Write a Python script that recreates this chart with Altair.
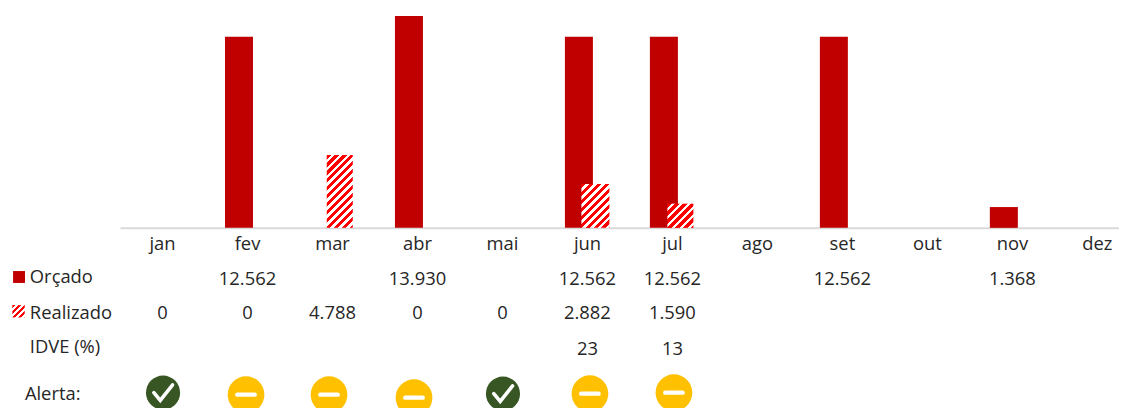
import altair as alt
import pandas as pd

months = ["jan", "fev", "mar", "abr", "mai", "jun", "jul", "ago", "set", "out", "nov", "dez"]
orcado = [None, 12562, None, 13930, None, 12562, 12562, None, 12562, None, 1368, None]
realizado = [0, 0, 4788, 0, 0, 2882, 1590, None, None, None, None, None]
idve = [None, None, None, None, None, 23, 13, None, None, None, None, None]
alerta = ["ok", "warn", "warn", "warn", "ok", "warn", "warn", None, None, None, None, None]
row_labels = ["Orçado", "Realizado", "IDVE (%)", "Alerta:"]

FONT = "Open Sans"
TXT = "#262626"
FS = 18.5
DARK_RED = "#C00000"
BASE = 220
TOP = 5.6
YMAX = 14000
HEIGHT = 400
CHECK = "M -0.5 0 L -0.15 0.42 L 0.52 -0.42"
DASH = "M -0.5 0 L 0.5 0"

def br(v):
    return f"{v:,}".replace(",", ".")

def hatch(w, h, period=8.0):
    k = (w + h) / (w * w + h * h)
    n = int((w + h) / period) + 1
    step = 1 / ((w + h) / period)
    stops = []
    for i in range(n):
        a, b, c = i * step, (i + 0.55) * step, (i + 1) * step
        if a >= 1:
            break
        stops += [
            {"offset": a, "color": "#FF0000"},
            {"offset": min(b, 1), "color": "#FF0000"},
            {"offset": min(b, 1), "color": "#FFFFFF"},
            {"offset": min(c, 1), "color": "#FFFFFF"},
        ]
    return {"gradient": "linear", "x1": 0, "y1": 0, "x2": k * w, "y2": k * h, "stops": stops}

df = pd.DataFrame({"m": months, "o": orcado, "r": realizado, "i": idve, "a": alerta})

x = alt.X("m:N", title=None,
          scale=alt.Scale(domain=months, range=[112.85, 1140], paddingInner=0, paddingOuter=0),
          axis=alt.Axis(orient="bottom", offset=BASE - HEIGHT, ticks=False, grid=False, labelAngle=0,
                        labelFont=FONT, labelFontSize=FS, labelColor=TXT, labelPadding=7,
                        domainColor="#D9D9D9", domainWidth=2))
y_scale = alt.Scale(domain=[0, YMAX], range=[BASE, TOP])

base = alt.Chart(df)
layers = []

layers.append(
    base.transform_filter("isValid(datum.o)")
    .mark_bar(width=28.2, xOffset=-8.6, color=DARK_RED)
    .encode(x=x, y=alt.Y("o:Q", scale=y_scale, axis=None, title=None))
)

geom = {"mar": (26.2, 7.3), "jun": (28.2, 8), "jul": (26.2, 8)}
for m, v in zip(months, realizado):
    if v:
        w, off = geom[m]
        h = v * (BASE - TOP) / YMAX
        layers.append(
            base.transform_filter(alt.datum.m == m)
            .mark_bar(width=w, xOffset=off, fill=hatch(w, h))
            .encode(x=x, y=alt.Y("r:Q", scale=y_scale, axis=None, title=None))
        )

def text_row(labels, ypos):
    d = pd.DataFrame({"m": months, "t": labels})
    d = d[d["t"].notna()]
    return alt.Chart(d).mark_text(font=FONT, fontSize=FS, color=TXT, baseline="middle", align="center").encode(
        x=x, y=alt.value(ypos), text="t:N")

layers.append(text_row([br(v) if v is not None else None for v in orcado], 272))
layers.append(text_row([br(v) if v is not None else None for v in realizado], 306))
layers.append(text_row([str(v) if v is not None else None for v in idve], 342))

for lab, xp, yp in zip(row_labels, [22, 22, 22, 17], [270, 306, 340, 387]):
    layers.append(
        alt.Chart(pd.DataFrame({"t": [lab]})).mark_text(font=FONT, fontSize=FS, color=TXT, align="left", baseline="middle")
        .encode(x=alt.value(xp), y=alt.value(yp), text="t:N")
    )

# legend swatches
layers.append(
    alt.Chart(pd.DataFrame({"t": ["Orçado"]})).mark_square(size=144, color=DARK_RED, opacity=1)
    .encode(x=alt.value(11.1), y=alt.value(269.5))
)
layers.append(
    alt.Chart(pd.DataFrame({"t": ["Realizado"]})).mark_square(size=156, fill=hatch(12.5, 12.5, 6.0), opacity=1)
    .encode(x=alt.value(10.6), y=alt.value(304))
)

# alert icons: small layout nudges per month
nudge = {"jan": (0.5, 386), "fev": (-1.5, 388), "mar": (-3.5, 388), "abr": (-3.5, 391),
         "mai": (0.5, 387), "jun": (2.5, 387), "jul": (1.5, 386)}
for m, a in zip(months, alerta):
    if a is None:
        continue
    dx, yp = nudge[m]
    d = pd.DataFrame({"m": [m]})
    col = "#375623" if a == "ok" else "#FFC000"
    size = 1183 if a == "ok" else 1369
    layers.append(
        alt.Chart(d).mark_point(filled=True, shape="circle", size=size, color=col, opacity=1, xOffset=dx)
        .encode(x=x, y=alt.value(yp))
    )
    layers.append(
        alt.Chart(d).mark_point(filled=False, shape=CHECK if a == "ok" else DASH, size=1369 if a == "ok" else 1225,
                                color="#FFFFFF", opacity=1, strokeWidth=3.6 if a == "ok" else 4.4,
                                strokeCap="round", xOffset=dx)
        .encode(x=x, y=alt.value(yp))
    )

chart = (
    alt.layer(*layers)
    .properties(width=1119, height=HEIGHT, padding=0, background="white",
                autosize=alt.AutoSizeParams(type="none"))
    .configure_view(stroke=None)
)
chart.save("out.html", embed_options={"renderer": "svg", "actions": False})
